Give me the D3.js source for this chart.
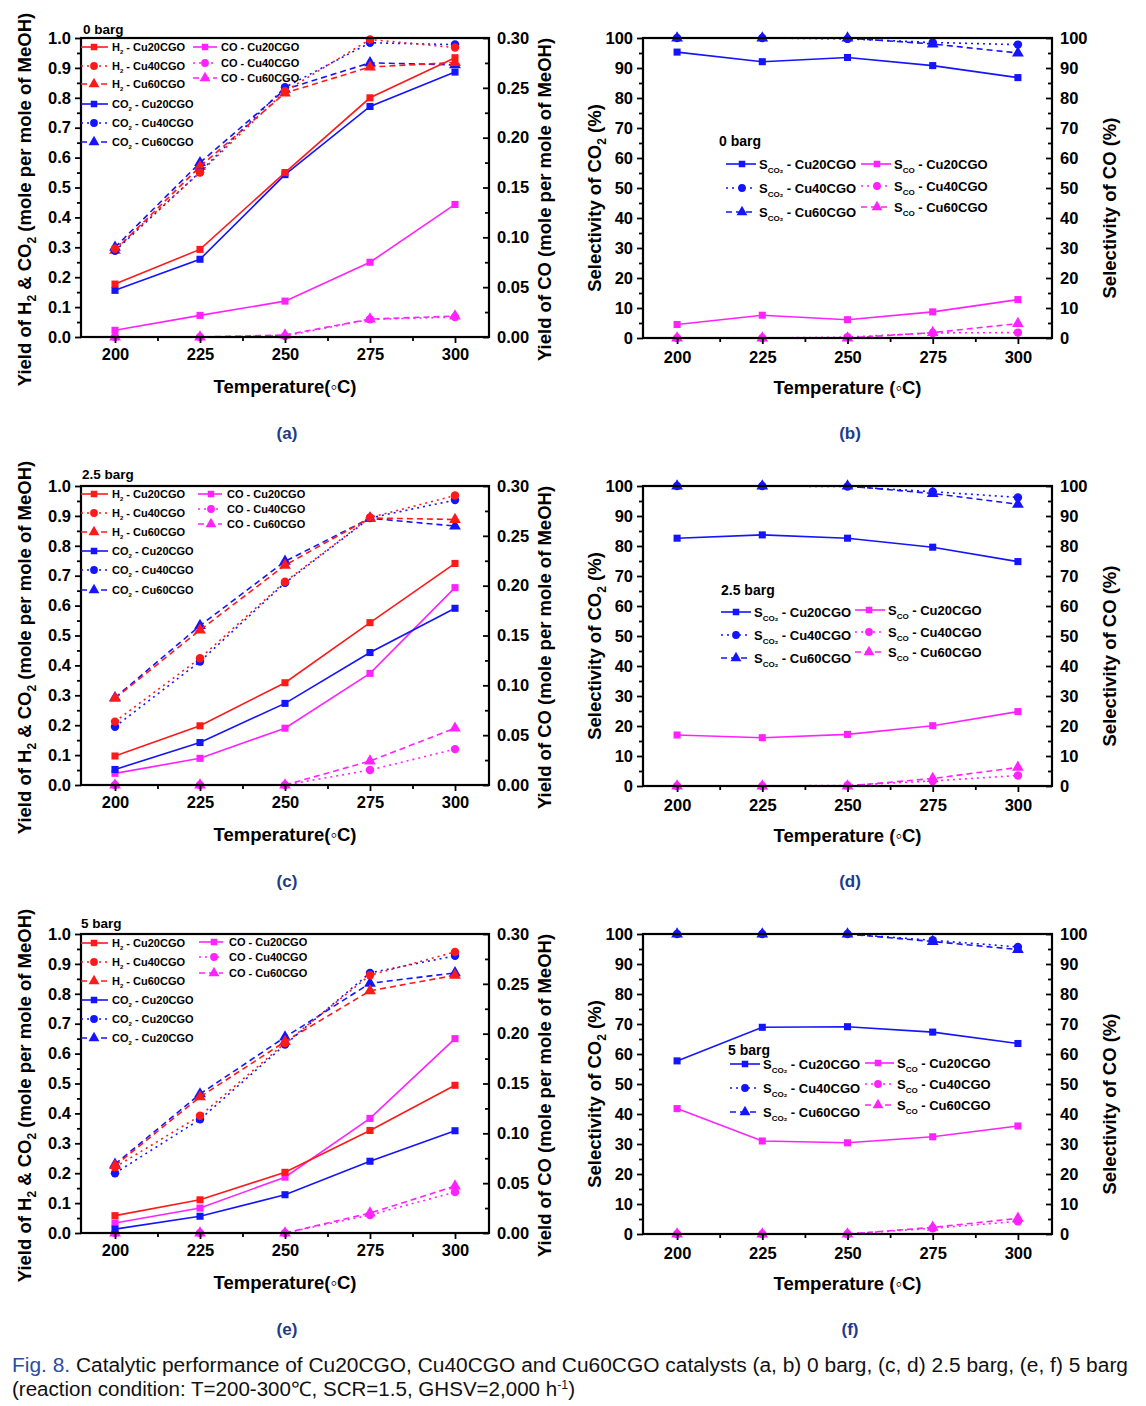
<!DOCTYPE html>
<html><head><meta charset="utf-8">
<script src="https://cdn.jsdelivr.net/npm/d3@7"></script>
<style>
body{margin:0;background:#fff;}
svg text{white-space:pre;}
</style>
</head><body>
<svg id="c" width="1146" height="1406"></svg>
<script>
// ---------------- DATA ----------------
const temperatures = [200, 225, 250, 275, 300];
const xTickValues = [200, 225, 250, 275, 300];
const xMinorTicks = [212.5, 237.5, 262.5, 287.5];
const yieldLeftTicks = [0, 0.1, 0.2, 0.3, 0.4, 0.5, 0.6, 0.7, 0.8, 0.9, 1.0];
const yieldRightTicks = [0, 0.05, 0.10, 0.15, 0.20, 0.25, 0.30];
const selTicks = [0, 10, 20, 30, 40, 50, 60, 70, 80, 90, 100];
const panelLabels = ["(a)", "(b)", "(c)", "(d)", "(e)", "(f)"];
const pressureLabels = ["0 barg", "2.5 barg", "5 barg"];
const catalysts = ["Cu20CGO", "Cu40CGO", "Cu60CGO"];

// Yield, 0 barg (H2, CO2 left axis; CO right axis)
const h2Cu20_0  = [0.177, 0.293, 0.550, 0.800, 0.934];
const h2Cu40_0  = [0.295, 0.550, 0.822, 0.995, 0.968];
const h2Cu60_0  = [0.290, 0.570, 0.816, 0.903, 0.918];
const co2Cu20_0 = [0.156, 0.260, 0.543, 0.771, 0.886];
const co2Cu40_0 = [0.288, 0.552, 0.835, 0.984, 0.978];
const co2Cu60_0 = [0.300, 0.583, 0.828, 0.917, 0.910];
const coCu20_0  = [0.0067, 0.0217, 0.036, 0.075, 0.133];
const coCu40_0  = [0, 0, 0.001, 0.0177, 0.020];
const coCu60_0  = [0, 0, 0.002, 0.018, 0.021];

// Yield, 2.5 barg
const h2Cu20_25  = [0.097, 0.198, 0.342, 0.543, 0.741];
const h2Cu40_25  = [0.212, 0.424, 0.680, 0.895, 0.968];
const h2Cu60_25  = [0.290, 0.518, 0.735, 0.893, 0.888];
const co2Cu20_25 = [0.052, 0.142, 0.273, 0.443, 0.591];
const co2Cu40_25 = [0.195, 0.413, 0.676, 0.893, 0.953];
const co2Cu60_25 = [0.292, 0.533, 0.748, 0.892, 0.866];
const coCu20_25  = [0.0117, 0.0268, 0.057, 0.112, 0.198];
const coCu40_25  = [0, 0, 0, 0.015, 0.036];
const coCu60_25  = [0, 0, 0, 0.024, 0.057];

// Yield, 5 barg
const h2Cu20_5  = [0.058, 0.111, 0.203, 0.343, 0.494];
const h2Cu40_5  = [0.220, 0.392, 0.635, 0.862, 0.940];
const h2Cu60_5  = [0.225, 0.455, 0.640, 0.810, 0.862];
const co2Cu20_5 = [0.013, 0.056, 0.128, 0.240, 0.342];
const co2Cu40_5 = [0.200, 0.380, 0.630, 0.870, 0.927];
const co2Cu60_5 = [0.230, 0.465, 0.655, 0.835, 0.870];
const coCu20_5  = [0.010, 0.025, 0.056, 0.115, 0.195];
const coCu40_5  = [0, 0, 0, 0.018, 0.041];
const coCu60_5  = [0, 0, 0, 0.020, 0.047];

// Selectivity (%), 0 barg
const sco2Cu20_0 = [95.3, 92.1, 93.5, 90.8, 86.8];
const sco2Cu40_0 = [100, 100, 99.7, 98.5, 97.8];
const sco2Cu60_0 = [100, 100, 100, 98.0, 95.0];
const scoCu20_0  = [4.5, 7.6, 6.1, 8.7, 12.8];
const scoCu40_0  = [0, 0, 0.3, 1.7, 1.8];
const scoCu60_0  = [0, 0, 0, 1.8, 4.8];

// Selectivity (%), 2.5 barg
const sco2Cu20_25 = [82.6, 83.7, 82.6, 79.6, 74.8];
const sco2Cu40_25 = [100, 100, 99.8, 98.1, 96.2];
const sco2Cu60_25 = [100, 100, 100, 97.5, 93.9];
const scoCu20_25  = [17.0, 16.1, 17.2, 20.1, 24.8];
const scoCu40_25  = [0, 0, 0.2, 1.7, 3.5];
const scoCu60_25  = [0, 0, 0, 2.5, 6.2];

// Selectivity (%), 5 barg
const sco2Cu20_5 = [57.7, 68.9, 69.1, 67.3, 63.5];
const sco2Cu40_5 = [100, 100, 100, 97.9, 95.7];
const sco2Cu60_5 = [100, 100, 100, 97.5, 94.8];
const scoCu20_5  = [41.8, 31.0, 30.4, 32.4, 36.0];
const scoCu40_5  = [0, 0, 0, 1.9, 4.2];
const scoCu60_5  = [0, 0, 0, 2.2, 5.2];

// Legend labels
const yieldLegendH2  = ["H_{2} - Cu20CGO", "H_{2} - Cu40CGO", "H_{2} - Cu60CGO"];
const yieldLegendCO2 = ["CO_{2} - Cu20CGO", "CO_{2} - Cu40CGO", "CO_{2} - Cu60CGO"];
const yieldLegendCO2_5barg = ["CO_{2} - Cu20CGO", "CO_{2} - Cu20CGO", "CO_{2} - Cu20CGO"];
const yieldLegendCO  = ["CO - Cu20CGO", "CO - Cu40CGO", "CO - Cu60CGO"];
const selLegendCO2 = ["S_{CO₂} - Cu20CGO", "S_{CO₂} - Cu40CGO", "S_{CO₂} - Cu60CGO"];
const selLegendCO  = ["S_{CO} - Cu20CGO", "S_{CO} - Cu40CGO", "S_{CO} - Cu60CGO"];

// ---------------- DRAWING ----------------
const FONT = "'Liberation Sans', Arial, Helvetica, sans-serif";
const RED = "#ff1a1a", BLUE = "#1414ff", MAG = "#ff22ff";
const styles = [
  {dash: null, shape: d3.symbolSquare, size: 50},
  {dash: "2,4", shape: d3.symbolCircle, size: 56},
  {dash: "6,4", shape: d3.symbolTriangle, size: 60}
];
const svg = d3.select("#c");

function richText(parent, str, fs, subFs, subDy) {
  const t = parent.append("text").attr("font-size", fs).attr("font-weight", "bold")
    .attr("font-family", FONT).attr("fill", "#000");
  const re = /_\{([^}]*)\}/g;
  let last = 0, m, cur = 0;
  const add = (s, isSub) => {
    const target = isSub ? subDy : 0;
    t.append("tspan").attr("dy", target - cur).attr("font-size", isSub ? subFs : fs).text(s);
    cur = target;
  };
  while ((m = re.exec(str)) !== null) {
    if (m.index > last) add(str.slice(last, m.index), false);
    add(m[1], true);
    last = re.lastIndex;
  }
  if (last < str.length) add(str.slice(last), false);
  return t;
}

function styleAxis(g, fs) {
  g.select(".domain").remove();
  g.selectAll(".tick line").attr("stroke", "#000").attr("stroke-width", 1.8);
  g.selectAll(".tick text").attr("font-size", fs).attr("font-weight", "bold")
    .attr("font-family", FONT).attr("fill", "#000");
}

function drawFrameAxes(g, x, yL, yR, c) {
  const {left, right, top, bottom} = c;
  const TF = 16.5;
  const bx = g.append("g").attr("transform", `translate(0,${bottom})`)
    .call(d3.axisBottom(x).tickValues(xTickValues).tickSize(6).tickSizeOuter(0)
      .tickPadding(c.xPad).tickFormat(d3.format("d")));
  styleAxis(bx, TF);
  const bm = g.append("g").attr("transform", `translate(0,${bottom})`)
    .call(d3.axisBottom(x).tickValues(xMinorTicks).tickSize(4).tickSizeOuter(0).tickFormat(""));
  styleAxis(bm, TF);
  const lx = g.append("g").attr("transform", `translate(${left},0)`)
    .call(d3.axisLeft(yL).tickValues(c.lTicks).tickSize(6).tickSizeOuter(0)
      .tickPadding(4).tickFormat(c.lFmt));
  styleAxis(lx, TF);
  const lm = g.append("g").attr("transform", `translate(${left},0)`)
    .call(d3.axisLeft(yL).tickValues(c.lMinor).tickSize(4).tickSizeOuter(0).tickFormat(""));
  styleAxis(lm, TF);
  const rx = g.append("g").attr("transform", `translate(${right},0)`)
    .call(d3.axisRight(yR).tickValues(c.rTicks).tickSize(-6).tickSizeOuter(0)
      .tickPadding(8).tickFormat(c.rFmt));
  styleAxis(rx, TF);
  const rm = g.append("g").attr("transform", `translate(${right},0)`)
    .call(d3.axisRight(yR).tickValues(c.rMinor).tickSize(-4).tickSizeOuter(0).tickFormat(""));
  styleAxis(rm, TF);
  g.append("rect").attr("x", left).attr("y", top).attr("width", right - left)
    .attr("height", bottom - top).attr("fill", "none").attr("stroke", "#000").attr("stroke-width", 2.2);
}

function drawSeries(g, x, y, vals, color, st) {
  const line = d3.line().x((d, i) => x(temperatures[i])).y(d => y(d));
  g.append("path").datum(vals).attr("d", line).attr("fill", "none")
    .attr("stroke", color).attr("stroke-width", 1.6)
    .attr("stroke-dasharray", st.dash);
  g.selectAll(null).data(vals).enter().append("path")
    .attr("d", d3.symbol(st.shape, st.size))
    .attr("transform", (d, i) => `translate(${x(temperatures[i])},${y(d)})`)
    .attr("fill", color);
}

function legendItem(g, x1, x2, mx, y, color, st, label, tx, fs, subFs, subDy) {
  g.append("line").attr("x1", x1).attr("x2", x2).attr("y1", y).attr("y2", y)
    .attr("stroke", color).attr("stroke-width", 1.6).attr("stroke-dasharray", st.dash);
  g.append("path").attr("d", d3.symbol(st.shape, st.size * 0.85)).attr("transform", `translate(${mx},${y})`)
    .attr("fill", color);
  richText(g, label, fs, subFs, subDy).attr("x", tx).attr("y", y + fs * 0.36);
}

const TITLE = 18.5, TITLESUB = 12;

function yieldPanel(row, h2, co2, co, co2Names, leg) {
  const off = row * 448;
  const c = {left: 81, right: 489, top: 38 + off, bottom: 337 + off, xPad: 5,
    lTicks: yieldLeftTicks, lMinor: d3.range(0.05, 1, 0.1), lFmt: d3.format(".1f"),
    rTicks: yieldRightTicks, rMinor: d3.range(0.025, 0.3, 0.05), rFmt: d3.format(".2f")};
  const g = svg.append("g");
  const x = d3.scaleLinear().domain([190, 310]).range([c.left, c.right]);
  const yL = d3.scaleLinear().domain([0, 1]).range([c.bottom, c.top]);
  const yR = d3.scaleLinear().domain([0, 0.3]).range([c.bottom, c.top]);
  const data = g.append("g");
  [2, 1, 0].forEach(k => {
    drawSeries(data, x, yR, co[k], MAG, styles[k]);
    drawSeries(data, x, yL, co2[k], BLUE, styles[k]);
    drawSeries(data, x, yL, h2[k], RED, styles[k]);
  });
  drawFrameAxes(g, x, yL, yR, c);
  const col1 = [[RED, 0, yieldLegendH2[0]], [RED, 1, yieldLegendH2[1]], [RED, 2, yieldLegendH2[2]],
    [BLUE, 0, co2Names[0]], [BLUE, 1, co2Names[1]], [BLUE, 2, co2Names[2]]];
  col1.forEach((it, i) => legendItem(g, 81, 108, 94, leg.c1y[i] + off, it[0], styles[it[1]], it[2], 112, 11, 6, 3));
  yieldLegendCO.forEach((lab, i) => legendItem(g, leg.c2x1, leg.c2x2, leg.c2m, leg.c2y[i] + off, MAG, styles[i], lab, leg.c2t, 11, 6, 3));
  g.append("text").attr("x", leg.bx).attr("y", leg.by + off).attr("font-size", 13.5)
    .attr("font-weight", "bold").attr("font-family", FONT).text(pressureLabels[row]);
  richText(g, "Yield of H_{2} & CO_{2} (mole per mole of MeOH)", TITLE, TITLESUB, 5)
    .attr("text-anchor", "middle").attr("transform", `translate(31,${(c.top + c.bottom) / 2 + 12}) rotate(-90)`);
  richText(g, "Yield of CO (mole per mole of MeOH)", TITLE, TITLESUB, 5)
    .attr("text-anchor", "middle").attr("transform", `translate(551,${(c.top + c.bottom) / 2 + 12}) rotate(-90)`);
  richText(g, "Temperature(◦C)", TITLE, TITLESUB, 5).attr("text-anchor", "middle")
    .attr("x", (c.left + c.right) / 2).attr("y", 393 + off);
  g.append("text").attr("x", 287).attr("y", 439 + off).attr("text-anchor", "middle")
    .attr("font-size", 17).attr("font-weight", "bold").attr("font-family", FONT)
    .attr("fill", "#1d3b8c").text(panelLabels[row * 2]);
}

function selPanel(row, sco2, sco, leg) {
  const off = row * 448;
  const c = {left: 643, right: 1052, top: 38 + off, bottom: 338 + off, xPad: 7,
    lTicks: selTicks, lMinor: d3.range(5, 100, 10), lFmt: d3.format("d"),
    rTicks: selTicks, rMinor: d3.range(5, 100, 10), rFmt: d3.format("d")};
  const g = svg.append("g");
  const x = d3.scaleLinear().domain([190, 310]).range([c.left, c.right]);
  const y = d3.scaleLinear().domain([0, 100]).range([c.bottom, c.top]);
  const data = g.append("g");
  [2, 1, 0].forEach(k => {
    drawSeries(data, x, y, sco[k], MAG, styles[k]);
    drawSeries(data, x, y, sco2[k], BLUE, styles[k]);
  });
  drawFrameAxes(g, x, y, y, c);
  selLegendCO2.forEach((lab, i) => legendItem(g, leg.a1, leg.a2, leg.am, leg.ay[i] + off, BLUE, styles[i], lab, leg.at, 13, 8, 4));
  selLegendCO.forEach((lab, i) => legendItem(g, leg.b1, leg.b2, leg.bm, leg.by[i] + off, MAG, styles[i], lab, leg.bt, 13, 8, 4));
  g.append("text").attr("x", leg.px).attr("y", leg.py + off).attr("font-size", 14)
    .attr("font-weight", "bold").attr("font-family", FONT).text(pressureLabels[row]);
  richText(g, "Selectivity of CO_{2} (%)", TITLE, TITLESUB, 5)
    .attr("text-anchor", "middle").attr("transform", `translate(601,${(c.top + c.bottom) / 2 + 10}) rotate(-90)`);
  richText(g, "Selectivity of CO (%)", TITLE, TITLESUB, 5)
    .attr("text-anchor", "middle").attr("transform", `translate(1116,${(c.top + c.bottom) / 2 + 20}) rotate(-90)`);
  richText(g, "Temperature (◦C)", TITLE, TITLESUB, 5).attr("text-anchor", "middle")
    .attr("x", (c.left + c.right) / 2).attr("y", 394 + off);
  g.append("text").attr("x", 850).attr("y", 439 + off).attr("text-anchor", "middle")
    .attr("font-size", 17).attr("font-weight", "bold").attr("font-family", FONT)
    .attr("fill", "#1d3b8c").text(panelLabels[row * 2 + 1]);
}

yieldPanel(0, [h2Cu20_0, h2Cu40_0, h2Cu60_0], [co2Cu20_0, co2Cu40_0, co2Cu60_0], [coCu20_0, coCu40_0, coCu60_0],
  yieldLegendCO2, {c1y: [47, 66, 84, 104, 123, 142], c2x1: 193, c2x2: 217, c2m: 205, c2t: 221, c2y: [47, 63, 78], bx: 83, by: 34});
yieldPanel(1, [h2Cu20_25, h2Cu40_25, h2Cu60_25], [co2Cu20_25, co2Cu40_25, co2Cu60_25], [coCu20_25, coCu40_25, coCu60_25],
  yieldLegendCO2, {c1y: [46, 65, 84, 103, 122, 142], c2x1: 198, c2x2: 222, c2m: 211, c2t: 227, c2y: [46, 61, 76], bx: 82, by: 479 - 448});
yieldPanel(2, [h2Cu20_5, h2Cu40_5, h2Cu60_5], [co2Cu20_5, co2Cu40_5, co2Cu60_5], [coCu20_5, coCu40_5, coCu60_5],
  yieldLegendCO2_5barg, {c1y: [47, 66, 85, 104, 123, 142], c2x1: 199, c2x2: 223, c2m: 214, c2t: 229, c2y: [46, 61, 77], bx: 81, by: 928 - 896});

selPanel(0, [sco2Cu20_0, sco2Cu40_0, sco2Cu60_0], [scoCu20_0, scoCu40_0, scoCu60_0],
  {a1: 726, a2: 756, am: 742, at: 759, ay: [164, 188, 212], b1: 861, b2: 891, bm: 877, bt: 894, by: [164, 186, 207], px: 719, py: 146});
selPanel(1, [sco2Cu20_25, sco2Cu40_25, sco2Cu60_25], [scoCu20_25, scoCu40_25, scoCu60_25],
  {a1: 721, a2: 751, am: 736, at: 754, ay: [164, 187, 210], b1: 855, b2: 885, bm: 869, bt: 888, by: [162, 184, 204], px: 721, py: 595 - 448});
selPanel(2, [sco2Cu20_5, sco2Cu40_5, sco2Cu60_5], [scoCu20_5, scoCu40_5, scoCu60_5],
  {a1: 730, a2: 760, am: 745, at: 763, ay: [168, 192, 216], b1: 865, b2: 894, bm: 878, bt: 897, by: [167, 188, 209], px: 728, py: 1055 - 896});

// caption
const CAPFONT = "'Liberation Sans Narrow', 'Arial Narrow', 'Liberation Sans', Arial, sans-serif";
const cap1 = svg.append("text").attr("x", 12).attr("y", 1372).attr("font-size", 20)
  .attr("font-family", CAPFONT).attr("textLength", 1116).attr("lengthAdjust", "spacingAndGlyphs");
cap1.append("tspan").attr("fill", "#2b4c9f").text("Fig. 8.");
cap1.append("tspan").attr("fill", "#111").text(" Catalytic performance of Cu20CGO, Cu40CGO and Cu60CGO catalysts (a, b) 0 barg, (c, d) 2.5 barg, (e, f) 5 barg");
const cap2 = svg.append("text").attr("x", 12).attr("y", 1396).attr("font-size", 20)
  .attr("font-family", CAPFONT).attr("fill", "#111").attr("textLength", 563).attr("lengthAdjust", "spacingAndGlyphs");
cap2.append("tspan").text("(reaction condition: T=200-300℃, SCR=1.5, GHSV=2,000 h");
cap2.append("tspan").attr("font-size", 12).attr("dy", -7).text("-1");
cap2.append("tspan").attr("dy", 7).text(")");
</script>
</body></html>
